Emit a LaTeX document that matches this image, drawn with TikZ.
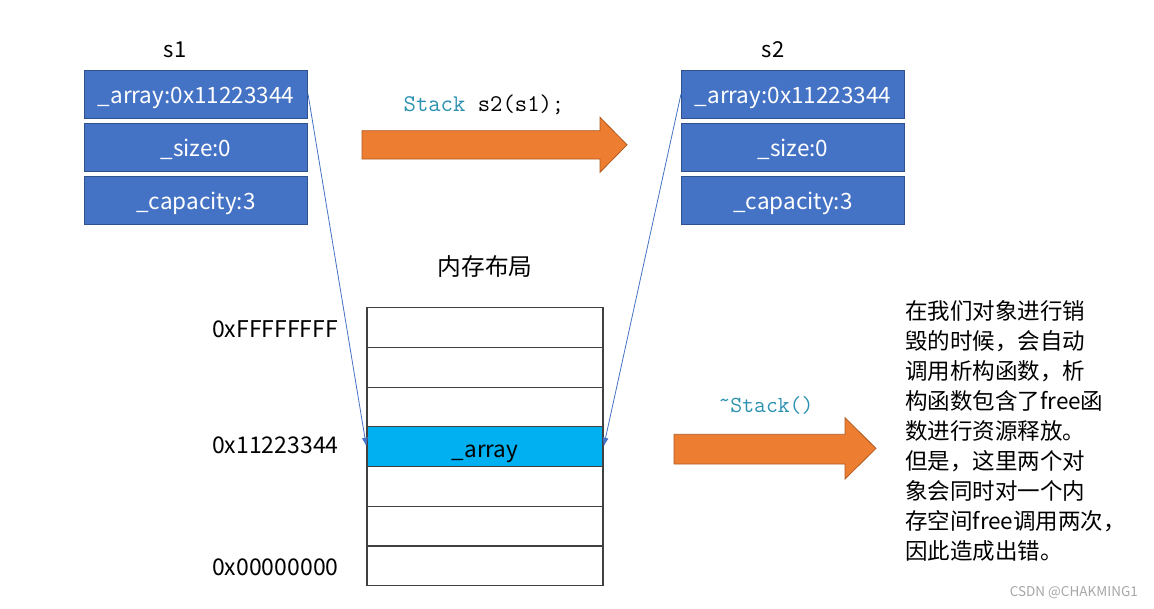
\documentclass[tikz,border=0pt]{standalone}
\usepackage{fontspec}
\setmainfont{Noto Sans CJK SC}
\usetikzlibrary{arrows.meta}
\definecolor{boxblue}{HTML}{4472C4}
\definecolor{boxborder}{HTML}{2F528F}
\definecolor{arrorange}{HTML}{ED7D31}
\definecolor{arrborder}{HTML}{AE5A21}
\definecolor{cellcyan}{HTML}{00B0F0}
\definecolor{cellborder}{HTML}{404040}
\definecolor{codeteal}{HTML}{2B91AF}
\definecolor{wmgray}{HTML}{A6A6A6}
\begin{document}
\begin{tikzpicture}[x=1pt,y=-1pt,
  field/.style={draw=boxborder, fill=boxblue, line width=1pt, minimum width=223pt, minimum height=48pt, inner sep=0pt, text=white, text height=20pt, text depth=2pt, font=\fontsize{22.5}{22.5}\selectfont},
  cell/.style={draw=cellborder, fill=white, line width=1.2pt, minimum width=236pt, minimum height=39.7pt, inner sep=0pt, text height=24pt, text depth=2pt, font=\fontsize{22.5}{22.5}\selectfont},
  lbl/.style={inner sep=0pt, font=\fontsize{22}{22}\selectfont},
  addr/.style={inner sep=0pt, anchor=west, font=\fontsize{23}{23}\selectfont},
  code/.style={inner sep=0pt, font=\ttfamily\fontsize{24}{24}\selectfont},
  bigarrow/.style={draw=arrborder, fill=arrorange, line width=0.8pt, line join=miter},
  ptr/.style={draw=boxblue, line width=0.8pt, -{Latex[length=9pt,width=6pt]}}
]
\useasboundingbox (0,0) rectangle (1154,608);

% s1
\node[lbl] (s1lbl) at (175,50) {s1};
\node[field] (s1a) at (196,94) {\_array:0x11223344};
\node[field] (s1b) at (196,147.5) {\_size:0};
\node[field] (s1c) at (196,200.5) {\_capacity:3};

% s2
\node[lbl] (s2lbl) at (773,50) {s2};
\node[field] (s2a) at (793,94) {\_array:0x11223344};
\node[field] (s2b) at (793,147.5) {\_size:0};
\node[field] (s2c) at (793,200.5) {\_capacity:3};

% copy arrow
\draw[bigarrow] (362,130.7) -- (600,130.7) -- (600,117.3) -- (627,144.8) -- (600,172.3) -- (600,159) -- (362,159) -- cycle;
\node[code] (copytxt) at (484,105) {\textcolor{codeteal}{Stack} s2(s1);};

% memory layout
\node[lbl, font=\fontsize{23.7}{23.7}\selectfont] (memtitle) at (485,267) {内存布局};
\node[cell] (m1) at (485,327.6) {};
\node[cell] (m2) at (485,367.3) {};
\node[cell] (m3) at (485,407.0) {};
\node[cell, fill=cellcyan] (m4) at (485,446.7) {\_array};
\node[cell] (m5) at (485,486.4) {};
\node[cell] (m6) at (485,526.1) {};
\node[cell] (m7) at (485,565.8) {};

\node[addr] (a1) at (212,329) {0xFFFFFFFF};
\node[addr] (a2) at (212,445) {0x11223344};
\node[addr] (a3) at (212,567) {0x00000000};

% pointers
\draw[ptr] (s1a.east) -- (m4.west);
\draw[ptr] (s2a.west) -- (m4.east);

% destructor arrow
\draw[bigarrow] (674,434.3) -- (845,434.3) -- (845,417.7) -- (876,448.4) -- (845,479) -- (845,464) -- (674,464) -- cycle;
\node[code, font=\ttfamily\fontsize{23}{23}\selectfont, text=codeteal] (dtor) at (766,405) {\raisebox{5pt}{\textasciitilde}Stack()};

% explanation
\node[inner sep=0pt, anchor=north west, align=left, font=\fontsize{22.5}{30}\selectfont] (note) at (905,300) {在我们对象进行销\\毁的时候，会自动\\调用析构函数，析\\构函数包含了free函\\数进行资源释放。\\但是，这里两个对\\象会同时对一个内\\存空间free调用两次，\\因此造成出错。};

\node[inner sep=0pt, anchor=east, text=wmgray, font=\fontsize{13.5}{13.5}\selectfont] (wm) at (1138,593) {CSDN @CHAKMING1};
\end{tikzpicture}
\end{document}
